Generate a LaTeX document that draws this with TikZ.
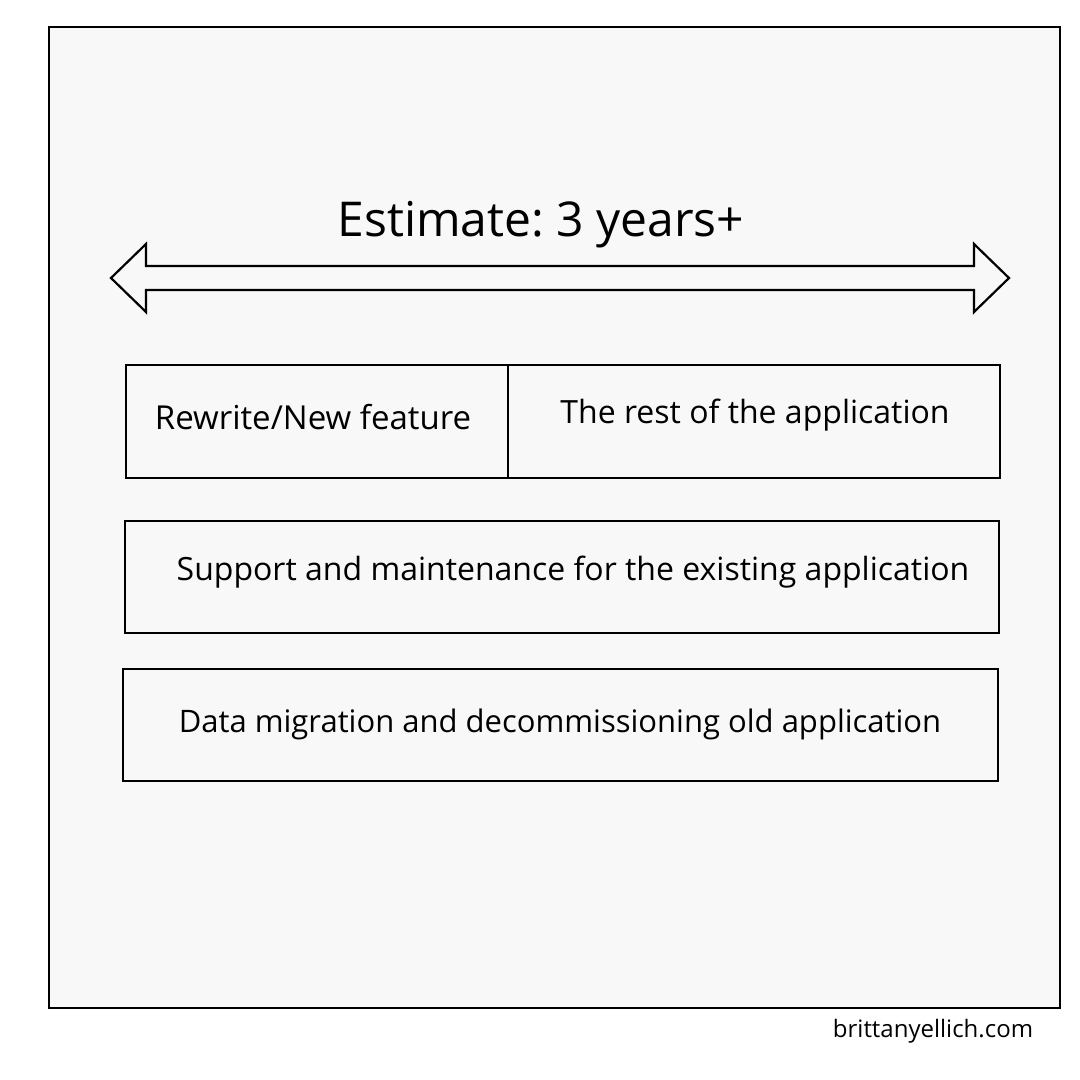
\documentclass[tikz,border=0pt]{standalone}
\usepackage{fontspec}
\setmainfont{Open Sans}
\usepackage{tikz}
\definecolor{paper}{HTML}{F8F8F8}
\frenchspacing

\begin{document}
\begin{tikzpicture}[x=1pt,y=-1pt]
\useasboundingbox[fill=white] (0,0) rectangle (1080,1080);
\node[draw, line width=1.8pt, fill=paper, minimum width=1011pt, minimum height=981pt, anchor=north west] (frame) at (48,26) {};
\node[font=\fontsize{48}{50}\selectfont] (est) at (541,225) {Estimate: 3 years+};
\draw [line width=2.2pt, line join=miter] (111,278) -- (146,244) -- (146,266) -- (974,266) -- (974,244)
  -- (1009,278) -- (974,312) -- (974,290) -- (146,290) -- (146,312) -- cycle;
\node[draw, line width=1.6pt, minimum width=382pt, minimum height=113pt, anchor=north west] (rew) at (125,364) {};
\node[draw, line width=1.6pt, minimum width=492pt, minimum height=113pt, anchor=north west] (rest) at (507,364) {};
\node[font=\fontsize{33}{35}\selectfont] (rewt) at (313,417) {Rewrite/New feature};
\node[font=\fontsize{32}{34}\selectfont] (restt) at (755,415) {The rest of the application};
\node[draw, line width=1.6pt, minimum width=874pt, minimum height=112pt, anchor=north west] (sup) at (124,520) {};
\node[font=\fontsize{32}{34}\selectfont] (supt) at (573,572) {Support and maintenance for the existing application};
\node[draw, line width=1.6pt, minimum width=875pt, minimum height=112pt, anchor=north west] (dat) at (122,668) {};
\node[font=\fontsize{31}{33}\selectfont] (datt) at (560,724) {Data migration and decommissioning old application};
\node[font=\fontsize{24}{26}\selectfont] (site) at (933,1031) {brittanyellich.com};
\end{tikzpicture}
\end{document}
